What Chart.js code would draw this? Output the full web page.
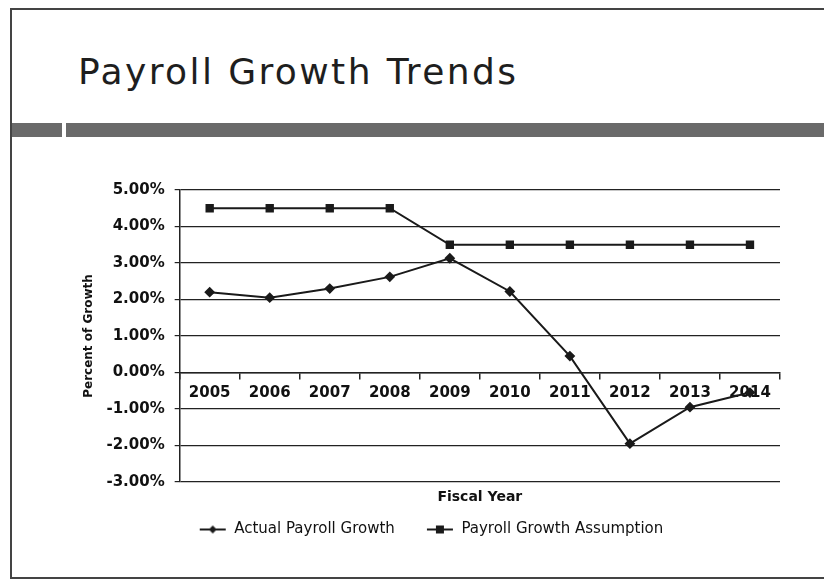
<!DOCTYPE html>
<html>
<head>
<meta charset="utf-8">
<script src="https://cdn.jsdelivr.net/npm/chart.js@4"></script>
<style>
  body { margin: 0; background: #fff; width: 824px; height: 580px; overflow: hidden; position: relative; font-family: "DejaVu Sans", sans-serif; }
  #frame { position: absolute; left: 10px; top: 8px; width: 830px; height: 567px; border: 2px solid #444; border-right: none; }
  #title { position: absolute; left: 78px; top: 51px; font-size: 36px; color: #1e1e1e; letter-spacing: 2.4px; white-space: nowrap; }
  .band { position: absolute; top: 123px; height: 14px; background: #6a6a6a; }
  #chartBox { position: absolute; left: 60px; top: 170px; }
</style>
</head>
<body>
<div id="frame"></div>
<div id="title">Payroll Growth Trends</div>
<div class="band" style="left:12px;width:50px"></div>
<div class="band" style="left:66px;width:760px"></div>
<div id="chartBox"><canvas id="myChart" width="740" height="380"></canvas></div>
<script>
const years = ["2005", "2006", "2007", "2008", "2009", "2010", "2011", "2012", "2013", "2014"];
const actualGrowth = [2.2, 2.05, 2.3, 2.62, 3.13, 2.22, 0.45, -1.95, -0.95, -0.55];
const growthAssumption = [4.5, 4.5, 4.5, 4.5, 3.5, 3.5, 3.5, 3.5, 3.5, 3.5];
const seriesNames = ["Actual Payroll Growth", "Payroll Growth Assumption"];

// little legend icons: a line with the marker in the middle, like Excel
function makeIcon(shape) {
  const c = document.createElement("canvas");
  c.width = 28;
  c.height = 12;
  const g = c.getContext("2d");
  g.strokeStyle = "#1a1a1a";
  g.fillStyle = "#1a1a1a";
  g.lineWidth = 2;
  g.beginPath();
  g.moveTo(1, 6);
  g.lineTo(27, 6);
  g.stroke();
  g.beginPath();
  if (shape == "diamond") {
    g.moveTo(14, 2);
    g.lineTo(18, 6);
    g.lineTo(14, 10);
    g.lineTo(10, 6);
  } else {
    g.rect(10, 2, 8, 8);
  }
  g.fill();
  return c;
}
const icons = [makeIcon("diamond"), makeIcon("square")];

const ctx = document.getElementById("myChart");

new Chart(ctx, {
  type: "line",
  data: {
    labels: years,
    datasets: [
      {
        label: seriesNames[0],
        data: actualGrowth,
        borderColor: "#1a1a1a",
        backgroundColor: "#1a1a1a",
        borderWidth: 2,
        pointStyle: "rectRot",
        pointRadius: 4,
        tension: 0,
      },
      {
        label: seriesNames[1],
        data: growthAssumption,
        borderColor: "#1a1a1a",
        backgroundColor: "#1a1a1a",
        borderWidth: 2,
        pointStyle: "rect",
        pointRadius: 4.5,
        tension: 0,
      },
    ],
  },
  options: {
    responsive: false,
    animation: false,
    layout: { padding: { left: 22, right: 20, top: 20, bottom: 3 } },
    scales: {
      x: {
        type: "category",
        position: { y: 0 },
        offset: true,
        grid: { drawOnChartArea: false, offset: true, tickLength: 6, color: "#222", lineWidth: 1.5 },
        border: { color: "#222", width: 1.5 },
        ticks: { color: "#111", padding: 6, font: { family: "DejaVu Sans", size: 15, weight: "bold" } },
      },
      xt: {
        type: "category",
        labels: years,
        position: "bottom",
        grid: { display: false },
        border: { display: false },
        ticks: { display: false },
        title: { display: true, text: "Fiscal Year", color: "#111", padding: { top: 0, bottom: 6 }, font: { family: "DejaVu Sans", size: 14, weight: "bold", lineHeight: 1 } },
      },
      y: {
        min: -3,
        max: 5,
        ticks: {
          stepSize: 1,
          color: "#111",
          padding: 10,
          font: { family: "DejaVu Sans", size: 15, weight: "bold" },
          callback: function (v) { return v.toFixed(2) + "%"; },
        },
        grid: { color: "#222", lineWidth: 1.2, tickLength: 5 },
        border: { color: "#222", width: 1.5 },
        title: { display: true, text: "Percent of Growth", color: "#111", padding: { top: 0, bottom: 0 }, font: { family: "DejaVu Sans", size: 12, weight: "bold" } },
      },
    },
    plugins: {
      legend: {
        position: "bottom",
        labels: {
          usePointStyle: true,
          pointStyleWidth: 28,
          padding: 12,
          color: "#111",
          font: { family: "DejaVu Sans", size: 15 },
          generateLabels: function (chart) {
            const items = Chart.defaults.plugins.legend.labels.generateLabels(chart);
            items.forEach(function (it, i) {
              it.pointStyle = icons[i];
              // a wider gap between the two entries
              if (i == 0) it.text = it.text + "    ";
            });
            return items;
          },
        },
      },
      tooltip: { enabled: false },
    },
  },
});
</script>
</body>
</html>
